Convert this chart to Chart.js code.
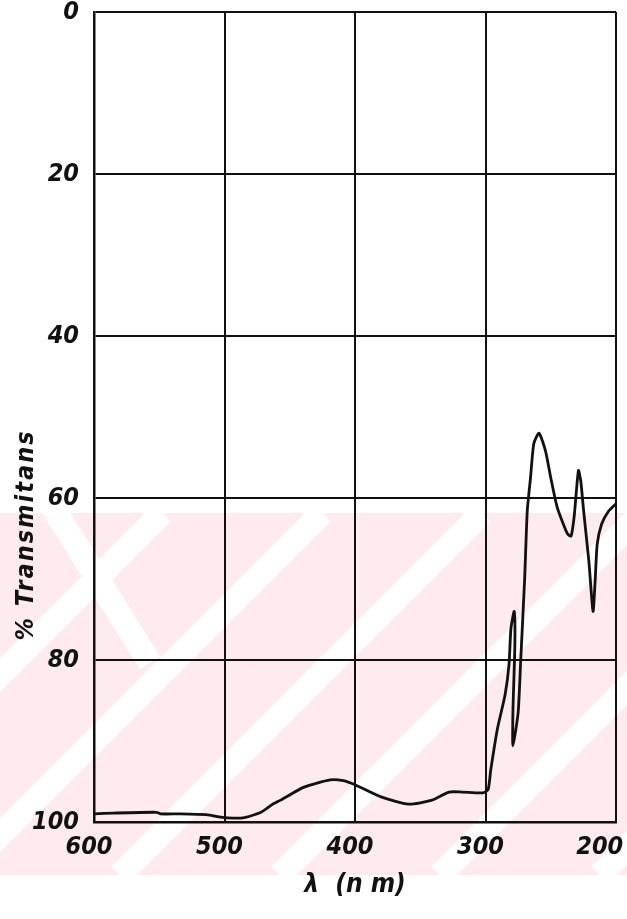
<!DOCTYPE html>
<html lang="tr">
<head>
    <meta charset="UTF-8">
    <title>% Transmitans</title>
    <script src="https://cdn.jsdelivr.net/npm/chart.js"></script>
    <style>
        html, body { margin: 0; padding: 0; background: #fff; }
        canvas { display: block; }
    </style>
</head>
<body>
    <canvas id="spectrum" width="627" height="919"></canvas>

    <script>
        // dalga boyu (nm) ve % transmitans
        const wavelength = [600, 585, 552, 549, 534, 514, 503, 498, 486, 472, 463, 457, 439, 419, 409, 400,
            380, 359, 341, 328, 318, 302, 298, 296, 291, 285, 282, 280.5, 278, 277.5, 279, 279,
            275, 273, 270, 268, 265.5, 263, 259, 254, 250, 245, 239.2, 236.8, 234.4, 232, 228.8,
            227, 224.8, 220.8, 217.6, 216, 214.4, 211, 205.6, 200];
        const transmittance = [99.0, 98.9, 98.8, 99.0, 99.0, 99.1, 99.4, 99.5, 99.5, 98.8, 97.8, 97.3, 95.7, 94.8, 94.9, 95.4,
            96.9, 97.8, 97.3, 96.3, 96.3, 96.4, 96.0, 93.6, 88.6, 84.3, 80.6, 76.1, 74.0, 78.1, 86.5, 90.6,
            86.5, 80.0, 70.0, 61.6, 57.5, 53.3, 52.0, 54.2, 57.5, 61.2, 63.7, 64.5, 64.7, 62.2, 56.6,
            57.9, 61.6, 67.8, 74.0, 70.3, 65.7, 63.2, 61.6, 60.7];

        const xTicks = [600, 500, 400, 300, 200];
        const yTicks = [0, 20, 40, 60, 80, 100];
        const xTitle = 'λ  (n m)';
        const yTitle = '% Transmitans';

        const points = wavelength.map((w, i) => ({ x: w, y: transmittance[i] }));

        const FAMILY = '"DejaVu Sans Condensed", "DejaVu Sans", sans-serif';

        // soluk pembe filigran
        const watermark = {
            id: 'watermark',
            beforeDraw(chart) {
                const ctx = chart.ctx;
                const top = 513, bottom = 875, w = chart.width;
                const h = bottom - top;
                ctx.save();
                ctx.fillStyle = '#fdebef';
                ctx.fillRect(0, top, w, h);
                ctx.beginPath();
                ctx.rect(0, top, w, h);
                ctx.clip();
                ctx.strokeStyle = '#ffffff';
                ctx.lineWidth = 24;
                [-200, -40, 120, 280, 440, 600].forEach(x0 => {
                    ctx.beginPath();
                    ctx.moveTo(x0, bottom);
                    ctx.lineTo(x0 + h, top);
                    ctx.stroke();
                });
                ctx.beginPath();
                ctx.moveTo(50, top - 10);
                ctx.lineTo(150, top + 150);
                ctx.stroke();
                ctx.restore();
            }
        };

        // y ekseni basligi (eksene gore asagi kaymis)
        const yTitlePlugin = {
            id: 'yTitle',
            afterDraw(chart) {
                const ctx = chart.ctx;
                ctx.save();
                ctx.translate(26, 535);
                ctx.rotate(-Math.PI / 2);
                ctx.font = 'italic bold 25px ' + FAMILY;
                ctx.letterSpacing = '2px';
                ctx.fillStyle = '#111';
                ctx.textAlign = 'center';
                ctx.textBaseline = 'middle';
                ctx.fillText(yTitle, 0, 0);
                ctx.restore();
            }
        };

        const tickFont = { family: FAMILY, size: 25, weight: 'bold', style: 'italic' };

        new Chart(document.getElementById('spectrum').getContext('2d'), {
            type: 'line',
            data: {
                datasets: [{
                    data: points,
                    borderColor: '#111',
                    borderWidth: 2.8,
                    pointRadius: 0,
                    fill: false,
                    tension: 0.2
                }]
            },
            options: {
                responsive: false,
                animation: false,
                layout: { padding: { top: 12, right: 11, left: 0, bottom: 0 } },
                plugins: { legend: { display: false }, tooltip: { enabled: false } },
                scales: {
                    x: {
                        type: 'linear',
                        reverse: true,
                        min: 200,
                        max: 600,
                        afterBuildTicks: s => { s.ticks = xTicks.map(v => ({ value: v })); },
                        afterFit: s => { s.height = 97; s.paddingLeft = 0; s.paddingRight = 0; },
                        grid: { color: '#111', lineWidth: 2, drawTicks: false },
                        border: { display: true, color: '#111', width: 2.5 },
                        ticks: {
                            color: '#111', font: tickFont, padding: 10, maxRotation: 0, labelOffset: -5,
                            // son etiket kenarda kesilmesin diye biraz sola
                            callback: v => v === xTicks[xTicks.length - 1] ? v + '\u2002\u2002' : String(v)
                        },
                        title: {
                            display: true,
                            text: xTitle,
                            color: '#111',
                            font: { family: FAMILY, size: 26, weight: 'bold', style: 'italic' },
                            padding: { top: 0, bottom: 18 }
                        }
                    },
                    y: {
                        reverse: true,
                        min: 0,
                        max: 100,
                        afterBuildTicks: s => { s.ticks = yTicks.map(v => ({ value: v })); },
                        afterFit: s => { s.width = 94; s.paddingTop = 0; s.paddingBottom = 0; },
                        grid: { color: '#111', lineWidth: 2, drawTicks: false },
                        border: { display: true, color: '#111', width: 2.5 },
                        ticks: { color: '#111', font: tickFont, padding: 15 }
                    }
                }
            },
            plugins: [watermark, yTitlePlugin]
        });
    </script>
</body>
</html>
